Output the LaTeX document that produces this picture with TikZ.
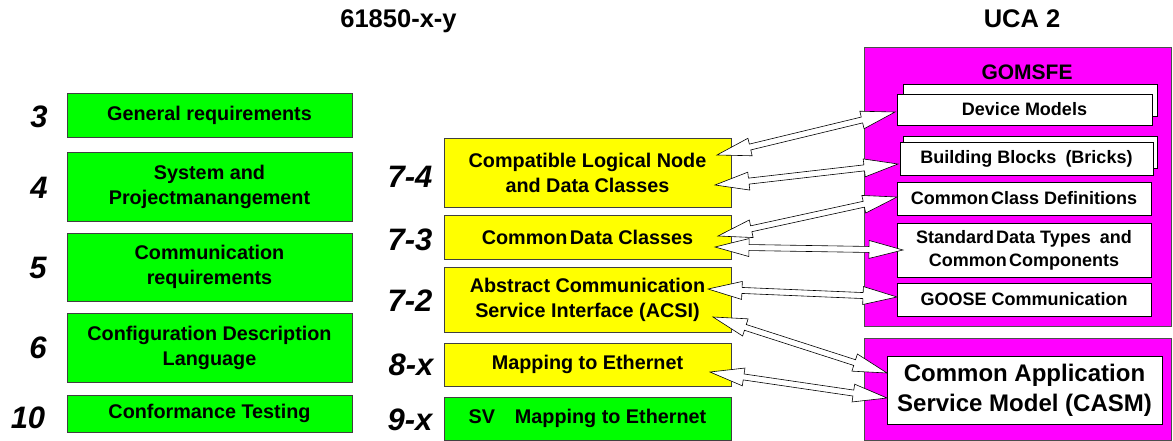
\documentclass[tikz,border=0pt]{standalone}
\usepackage{fontspec}
\setmainfont{Liberation Sans}
\usetikzlibrary{calc}

\definecolor{partgreen}{HTML}{00FF00}
\definecolor{partyellow}{HTML}{FFFF00}
\definecolor{ucamagenta}{HTML}{FF00FF}

\tikzset{
  part/.style={draw=black!75, line width=0.7pt, inner sep=0pt, align=center,
    minimum width=#1, font=\bfseries\fontsize{19.8}{25}\selectfont},
  greenpart/.style={part=285, fill=partgreen},
  yellowpart/.style={part=287, fill=partyellow},
  nummark/.style={font=\bfseries\itshape\fontsize{31}{32}\selectfont},
  headline/.style={anchor=base, font=\bfseries\fontsize{25.5}{28}\selectfont},
  ucabox/.style={draw=black!70, line width=0.7pt, fill=ucamagenta},
  whitebox/.style={draw=black, line width=0.7pt, fill=white, inner sep=0pt, align=center,
    minimum width=254, font=\bfseries\fontsize{18}{23}\selectfont},
  blockarr/.style={draw=black, line width=0.6pt, fill=white, line join=miter},
}

% hollow double-headed block arrow between two named points
\newcommand{\dblarrow}[2]{%
  \draw[blockarr] (#1)
    -- ($(#1)!34pt!(#2)!9pt!90:(#2)$) -- ($(#1)!34pt!(#2)!3pt!90:(#2)$)
    -- ($(#2)!34pt!(#1)!3pt!-90:(#1)$) -- ($(#2)!34pt!(#1)!9pt!-90:(#1)$)
    -- (#2)
    -- ($(#2)!34pt!(#1)!9pt!90:(#1)$) -- ($(#2)!34pt!(#1)!3pt!90:(#1)$)
    -- ($(#1)!34pt!(#2)!3pt!-90:(#2)$) -- ($(#1)!34pt!(#2)!9pt!-90:(#2)$)
    -- cycle;}

\begin{document}
\begin{tikzpicture}[x=1pt, y=-1pt]
  \useasboundingbox (0,0) rectangle (1173,441);

  % titles
  \node[headline] (tstd) at (398.5,28) {61850-x-y};
  \node[headline] (tuca) at (1022,28) {UCA 2};

  % 61850 parts, left column
  \node[greenpart, minimum height=44] (p3) at (209.5,115) {General requirements};
  \node[greenpart, minimum height=69] (p4) at (209.5,186.5) {System and\\Projectmanangement};
  \node[greenpart, minimum height=68] (p5) at (209.5,267) {Communication\\requirements};
  \node[greenpart, minimum height=69] (p6) at (209.5,347.5) {Configuration Description\\Language};
  \node[greenpart, minimum height=37] (p10) at (209.5,413.5) {Conformance Testing};
  \node[nummark] (n3) at (39,117) {3};
  \node[nummark] (n4) at (39,188) {4};
  \node[nummark] (n5) at (38,268) {5};
  \node[nummark] (n6) at (38,348) {6};
  \node[nummark] (n10) at (28,418) {10};

  % 61850 parts, middle column
  \node[yellowpart, minimum height=69] (p74) at (587.5,172.5) {Compatible Logical Node\\and Data Classes};
  \node[yellowpart, minimum height=44] (p73) at (587.5,237) {Common\hspace{0.12em}Data Classes};
  \node[yellowpart, minimum height=65] (p72) at (587.5,299.5) {Abstract Communication\\Service Interface (ACSI)};
  \node[yellowpart, minimum height=43] (p8x) at (587.5,364.5) {Mapping to Ethernet};
  \node[greenpart, part=287, minimum height=43] (p9x) at (587.5,418.5) {SV\quad Mapping to Ethernet};
  \node[nummark] (n74) at (410,177) {7-4};
  \node[nummark] (n73) at (410,240) {7-3};
  \node[nummark] (n72) at (410,301) {7-2};
  \node[nummark] (n8x) at (411,365) {8-x};
  \node[nummark] (n9x) at (410,420) {9-x};

  % UCA 2 side
  \draw[ucabox] (864,47) rectangle (1171,326);
  \node[font=\bfseries\fontsize{21}{22}\selectfont] (gomsfe) at (1027,72) {GOMSFE};
  \node[whitebox, minimum height=32] (dmback) at (1030,100) {};
  \node[whitebox, minimum width=255, minimum height=31] (dm) at (1024.5,109.5) {Device Models};
  \node[whitebox, minimum height=32] (bbback) at (1030,152) {};
  \node[whitebox, minimum width=253, minimum height=33] (bb) at (1026.5,158.5) {Building Blocks\enspace(Bricks)};
  \node[whitebox, minimum height=33] (ccd) at (1024,198.5) {Common\hspace{0.12em}Class Definitions};
  \node[whitebox, minimum height=54] (sdt) at (1024,250) {Standard\hspace{0.12em}Data Types\enspace and\\Common\hspace{0.12em}Components};
  \node[whitebox, minimum height=33] (goose) at (1024,299.5) {GOOSE Communication};

  \draw[ucabox] (864,338) rectangle (1171,440);
  \node[whitebox, minimum width=275, minimum height=68, font=\bfseries\fontsize{24}{30}\selectfont]
    (casm) at (1024.5,390) {Common Application\\Service Model (CASM)};

  % arrow ends
  \coordinate (a1l) at (717,155);  \coordinate (a1r) at (895,112);
  \coordinate (a2l) at (715,185);  \coordinate (a2r) at (898,164);
  \coordinate (a3l) at (718,236);  \coordinate (a3r) at (897,197);
  \coordinate (a4l) at (715,247);  \coordinate (a4r) at (903,250);
  \coordinate (a5l) at (708,289);  \coordinate (a5r) at (897,297);
  \coordinate (a6l) at (713,317);  \coordinate (a6r) at (887,373);
  \coordinate (a7l) at (710,372);  \coordinate (a7r) at (887,398);

  \dblarrow{a1l}{a1r}
  \dblarrow{a2l}{a2r}
  \dblarrow{a3l}{a3r}
  \dblarrow{a4l}{a4r}
  \dblarrow{a5l}{a5r}
  \dblarrow{a6l}{a6r}
  \dblarrow{a7l}{a7r}
\end{tikzpicture}
\end{document}
